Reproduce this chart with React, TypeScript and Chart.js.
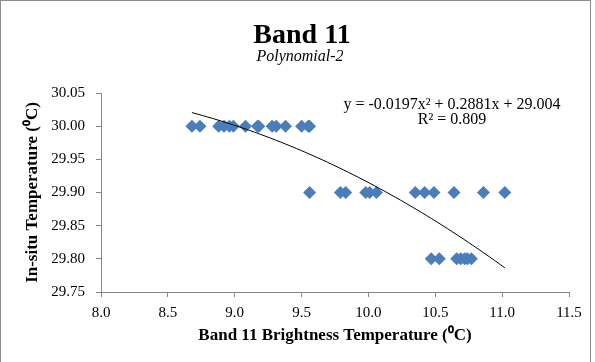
import React, { useEffect, useRef } from "react";
import { Chart, registerables } from "chart.js";

Chart.register(...registerables);

// In-situ temperature levels (°C) and the band 11 brightness temperatures observed at each
const insituLevels = [30.0, 29.9, 29.8];
const bandTempsAt30_00 = [8.68, 8.74, 8.88, 8.92, 8.96, 8.99, 9.08, 9.17, 9.18, 9.28, 9.31, 9.38, 9.5, 9.55, 9.56];
const bandTempsAt29_90 = [9.56, 9.79, 9.83, 9.98, 10.01, 10.06, 10.35, 10.42, 10.49, 10.64, 10.86, 11.02];
const bandTempsAt29_80 = [10.47, 10.53, 10.66, 10.69, 10.72, 10.74, 10.77];

// Polynomial (order 2) trendline as printed on the chart: a, b, c of y = a x^2 + b x + c
const trendCoefficients = [-0.0197, 0.2881, 29.004];
const trendRange = [8.68, 11.02];
const equationLines = ["y = -0.0197x² + 0.2881x + 29.004", "R² = 0.809"];

const xTickRange = [8, 11.5, 0.5];
const yTickRange = [29.75, 30.05, 0.05];

const chartTitle = "Band 11";
const chartSubtitle = "Polynomial-2";
const xAxisTitle = "Band 11 Brightness Temperature (⁰C)";
const yAxisTitle = "In-situ Temperature (⁰C)";

const FONT = "'Liberation Serif', 'Times New Roman', serif";
const BLUE = "#4A7EBB";
const AXIS = "#868686";

export default function App() {
  const ref = useRef<HTMLCanvasElement>(null);

  useEffect(() => {
    const canvas = ref.current;
    if (!canvas) return;

    const groups = [bandTempsAt30_00, bandTempsAt29_90, bandTempsAt29_80];
    const points: { x: number; y: number }[] = [];
    groups.forEach((xs, i) => xs.forEach((x) => points.push({ x, y: insituLevels[i] })));

    const [a, b, c] = trendCoefficients;
    const trendPoints: { x: number; y: number }[] = [];
    const steps = 60;
    for (let i = 0; i <= steps; i++) {
      const x = trendRange[0] + ((trendRange[1] - trendRange[0]) * i) / steps;
      trendPoints.push({ x, y: a * x * x + b * x + c });
    }

    const decor = {
      id: "decor",
      beforeDraw(chart: any) {
        const ctx = chart.ctx;
        ctx.save();
        ctx.fillStyle = "#fff";
        ctx.fillRect(0, 0, chart.width, chart.height);
        ctx.strokeStyle = "#8c8c8c";
        ctx.lineWidth = 1;
        ctx.strokeRect(0.5, 0.5, 590, 400);
        ctx.restore();
      },
      afterDraw(chart: any) {
        const ctx = chart.ctx;
        ctx.save();
        ctx.fillStyle = "#000";
        ctx.textAlign = "center";
        ctx.textBaseline = "alphabetic";
        ctx.font = `bold 28px ${FONT}`;
        ctx.fillText(chartTitle, 302, 43);
        ctx.font = `italic 16px ${FONT}`;
        ctx.fillText(chartSubtitle, 300, 61);
        ctx.font = `16px ${FONT}`;
        ctx.textBaseline = "middle";
        ctx.fillText(equationLines[0], 452, 105);
        ctx.fillText(equationLines[1], 452, 120);
        ctx.restore();
      },
    };

    const tickFont = { family: FONT, size: 15 };
    const titleFont = { family: FONT, size: 17, weight: "bold" as const };

    const chart = new Chart(canvas, {
      type: "scatter",
      data: {
        datasets: [
          {
            type: "line",
            label: "Poly. (Band 11)",
            data: trendPoints,
            borderColor: "#000",
            borderWidth: 1,
            pointRadius: 0,
            fill: false,
            tension: 0,
            order: 0,
          } as any,
          {
            type: "scatter",
            label: "Band 11",
            data: points,
            pointStyle: "rectRot",
            pointRadius: 6.5,
            backgroundColor: BLUE,
            borderColor: BLUE,
            borderWidth: 0,
            order: 1,
          },
        ],
      },
      options: {
        responsive: false,
        animation: false,
        devicePixelRatio: 1,
        layout: { padding: { top: 93, right: 26, left: 0, bottom: 0 } },
        plugins: {
          legend: { display: false },
          tooltip: { enabled: false },
          title: { display: false },
        },
        scales: {
          x: {
            type: "linear",
            min: xTickRange[0],
            max: xTickRange[1],
            ticks: {
              stepSize: xTickRange[2],
              callback: (v: any) => Number(v).toFixed(1),
              font: tickFont,
              color: "#000",
              padding: 7,
            },
            grid: { display: true, drawOnChartArea: false, drawTicks: true, tickLength: 5, color: AXIS },
            border: { display: true, color: AXIS },
            title: {
              display: true,
              text: xAxisTitle,
              font: titleFont,
              color: "#000",
              padding: { top: 0, bottom: 16 },
            },
            afterFit: (s: any) => {
              s.height = 70;
            },
          },
          y: {
            type: "linear",
            min: yTickRange[0],
            max: yTickRange[1],
            ticks: {
              stepSize: yTickRange[2],
              callback: (v: any) => Number(v).toFixed(2),
              font: tickFont,
              color: "#000",
              padding: 11,
            },
            grid: { display: true, drawOnChartArea: false, drawTicks: true, tickLength: 5, color: AXIS },
            border: { display: true, color: AXIS },
            title: {
              display: true,
              text: yAxisTitle,
              font: titleFont,
              color: "#000",
              padding: { top: 22, bottom: 0 },
            },
            afterFit: (s: any) => {
              s.width = 101;
            },
          },
        },
      },
      plugins: [decor],
    });

    return () => chart.destroy();
  }, []);

  return (
    <div style={{ position: "absolute", left: 0, top: 0, width: 595, height: 362 }}>
      <canvas ref={ref} width={595} height={362} />
    </div>
  );
}
